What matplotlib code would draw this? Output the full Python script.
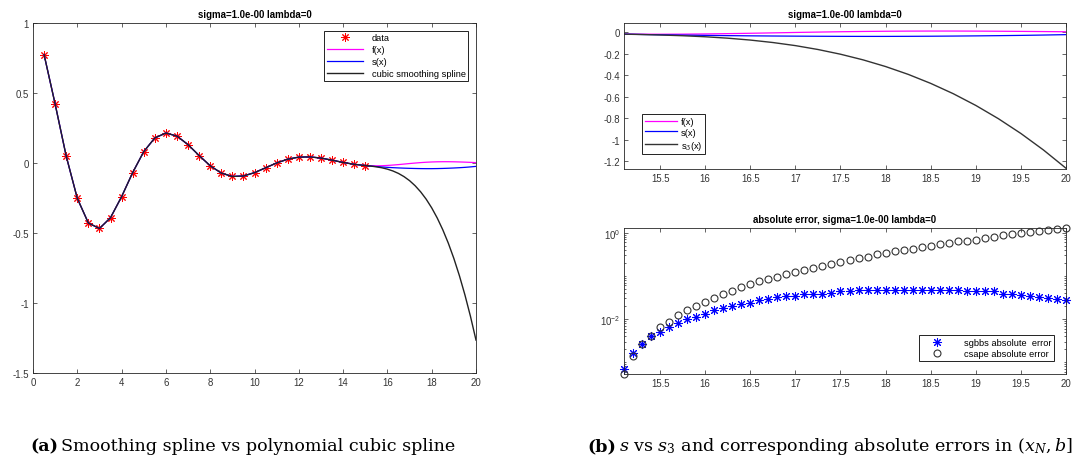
import matplotlib
matplotlib.use("Agg")
import matplotlib.pyplot as plt
from matplotlib.ticker import FixedLocator, FixedFormatter, LogLocator, NullFormatter

# ---------------- data ----------------
x_data = [0.5, 1.0, 1.5, 2.0, 2.5, 3.0, 3.5, 4.0, 4.5, 5.0, 5.5, 6.0, 6.5, 7.0, 7.5,
          8.0, 8.5, 9.0, 9.5, 10.0, 10.5, 11.0, 11.5, 12.0, 12.5, 13.0, 13.5, 14.0, 14.5, 15.0]
y_data = [0.7745, 0.4208, 0.0486, -0.2524, -0.4288, -0.4677, -0.3904, -0.2405, -0.0684, 0.0813,
          0.1792, 0.2142, 0.1923, 0.1310, 0.0532, -0.0197, -0.0719, -0.0960, -0.0927, -0.0689,
          -0.0344, 0.0003, 0.0273, 0.0420, 0.0438, 0.0352, 0.0203, 0.0041, -0.0094, -0.0179]

# curves beyond the last knot (x_N = 15, b = 20)
x_ext = [15.25, 15.5, 15.75, 16.0, 16.25, 16.5, 16.75, 17.0, 17.25, 17.5, 17.75,
         18.0, 18.25, 18.5, 18.75, 19.0, 19.25, 19.5, 19.75, 20.0]
f_ext = [-0.0198, -0.0203, -0.0195, -0.0175, -0.0147, -0.0114, -0.0077, -0.0039, -0.0004, 0.0028,
         0.0054, 0.0073, 0.0086, 0.0092, 0.0092, 0.0086, 0.0075, 0.0061, 0.0045, 0.0028]
s_ext = [-0.0219, -0.0253, -0.0283, -0.0310, -0.0333, -0.0352, -0.0368, -0.0381, -0.0392, -0.0400,
         -0.0404, -0.0404, -0.0398, -0.0388, -0.0374, -0.0357, -0.0336, -0.0311, -0.0279, -0.0241]
s3_ext = [-0.0222, -0.0273, -0.0342, -0.0438, -0.0570, -0.0745, -0.0973, -0.1260, -0.1621, -0.2059,
          -0.2583, -0.3204, -0.3929, -0.4768, -0.5726, -0.6816, -0.8045, -0.9422, -1.0953, -1.2650]

# absolute errors on (x_N, b]
x_err = [15.1, 15.2, 15.3, 15.4, 15.5, 15.6, 15.7, 15.8, 15.9, 16.0,
         16.1, 16.2, 16.3, 16.4, 16.5, 16.6, 16.7, 16.8, 16.9, 17.0,
         17.1, 17.2, 17.3, 17.4, 17.5, 17.6, 17.7, 17.8, 17.9, 18.0,
         18.1, 18.2, 18.3, 18.4, 18.5, 18.6, 18.7, 18.8, 18.9, 19.0,
         19.1, 19.2, 19.3, 19.4, 19.5, 19.6, 19.7, 19.8, 19.9, 20.0]
err_sgbbs = [6.9e-4, 1.62e-3, 2.63e-3, 3.98e-3, 5.0e-3, 6.6e-3, 8.1e-3, 0.0102, 0.0112, 0.0132,
             0.0158, 0.0182, 0.0195, 0.0224, 0.0234, 0.0269, 0.0295, 0.0316, 0.0339, 0.0339,
             0.0372, 0.0389, 0.0389, 0.0407, 0.0437, 0.0437, 0.0468, 0.0468, 0.0468, 0.0479,
             0.0479, 0.0468, 0.0468, 0.0468, 0.0468, 0.0468, 0.0468, 0.0468, 0.0457, 0.0447,
             0.0447, 0.0437, 0.0389, 0.0380, 0.0355, 0.0339, 0.0324, 0.0309, 0.0295, 0.0269]
err_csape = [5.3e-4, 1.35e-3, 2.63e-3, 3.98e-3, 6.46e-3, 8.7e-3, 0.0123, 0.0162, 0.0195, 0.0251,
             0.0302, 0.0372, 0.0457, 0.0537, 0.0631, 0.0759, 0.0851, 0.0955, 0.110, 0.123,
             0.135, 0.155, 0.166, 0.186, 0.214, 0.229, 0.263, 0.275, 0.316, 0.339,
             0.372, 0.398, 0.427, 0.457, 0.501, 0.537, 0.589, 0.631, 0.646, 0.692,
             0.759, 0.813, 0.871, 0.933, 0.977, 1.02, 1.07, 1.15, 1.23, 1.285]

left_xticks = [0, 2, 4, 6, 8, 10, 12, 14, 16, 18, 20]
left_yticks = [-1.5, -1, -0.5, 0, 0.5, 1]
left_yticklabels = ["-1.5", "-1", "-0.5", "0", "0.5", "1"]
right_xticks = [15.5, 16, 16.5, 17, 17.5, 18, 18.5, 19, 19.5, 20]
right_xticklabels = ["15.5", "16", "16.5", "17", "17.5", "18", "18.5", "19", "19.5", "20"]
top_yticks = [0, -0.2, -0.4, -0.6, -0.8, -1, -1.2]
top_yticklabels = ["0", "-0.2", "-0.4", "-0.6", "-0.8", "-1", "-1.2"]

title_main = "sigma=1.0e-00 lambda=0"
title_err = "absolute error, sigma=1.0e-00 lambda=0"

# ---------------- style ----------------
plt.rcParams["font.family"] = ["Liberation Sans", "DejaVu Sans"]
plt.rcParams["mathtext.fontset"] = "dejavuserif"
AX_COL = "#262626"
TICK_COL = "#333333"
FS = 6.9
LFS = 6.7
ASTERISK = (8, 2, 0)   # MATLAB-like '*' marker (plus + cross)

fig = plt.figure(figsize=(10.74, 4.64), dpi=100)
W, H = 1074.0, 464.0


def add_ax(l, r, t, b):
    return fig.add_axes([l / W, (H - b) / H, (r - l) / W, (b - t) / H])


def matlab_style(ax):
    for sp in ax.spines.values():
        sp.set_color(AX_COL)
        sp.set_linewidth(0.6)
    ax.tick_params(which="both", direction="in", top=True, right=True,
                   colors=AX_COL, labelcolor=TICK_COL, labelsize=FS, width=0.5, pad=3)
    ax.tick_params(which="major", length=3)
    ax.tick_params(which="minor", length=1.6)


def legend_style(leg):
    fr = leg.get_frame()
    fr.set_edgecolor("#222222")
    fr.set_linewidth(0.7)
    fr.set_alpha(1)


# ---------------- (a) ----------------
ax1 = add_ax(33, 476, 24, 374)
ax1.plot(x_data, y_data, linestyle="none", marker=ASTERISK, color="red", markersize=6,
         markeredgewidth=0.7, label="data")
ax1.plot(x_data + x_ext, y_data + f_ext, color="#ff00ff", lw=0.9, label="f(x)")
ax1.plot(x_data + x_ext, y_data + s_ext, color="#0000ff", lw=0.9, label="s(x)")
ax1.plot(x_data + x_ext, y_data + s3_ext, color="#222222", lw=1.0, label="cubic smoothing spline")
ax1.set_xlim(0, 20)
ax1.set_ylim(-1.5, 1)
ax1.xaxis.set_major_locator(FixedLocator(left_xticks))
ax1.yaxis.set_major_locator(FixedLocator(left_yticks))
ax1.yaxis.set_major_formatter(FixedFormatter(left_yticklabels))
matlab_style(ax1)
ax1.set_title(title_main, fontsize=FS, fontweight="bold", pad=4)
leg1 = ax1.legend(loc="upper right", bbox_to_anchor=(0.983, 0.978), fontsize=LFS, frameon=True,
                  fancybox=False, handlelength=3.9, handletextpad=0.9, borderpad=0.3,
                  labelspacing=0.3, borderaxespad=0)
legend_style(leg1)

# ---------------- (b) top ----------------
ax2 = add_ax(624, 1066, 24, 170)
ax2.plot([15.0] + x_ext, [y_data[-1]] + f_ext, color="#ff00ff", lw=0.9, label="f(x)")
ax2.plot([15.0] + x_ext, [y_data[-1]] + s_ext, color="#0000ff", lw=0.9, label="s(x)")
ax2.plot([15.0] + x_ext, [y_data[-1]] + s3_ext, color="#333333", lw=1.0, label="s$_3$(x)")
ax2.set_xlim(15.1, 20)
ax2.set_ylim(-1.272, 0.084)
ax2.xaxis.set_major_locator(FixedLocator(right_xticks))
ax2.xaxis.set_major_formatter(FixedFormatter(right_xticklabels))
ax2.yaxis.set_major_locator(FixedLocator(top_yticks))
ax2.yaxis.set_major_formatter(FixedFormatter(top_yticklabels))
matlab_style(ax2)
ax2.set_title(title_main, fontsize=FS, fontweight="bold", pad=4)
leg2 = ax2.legend(loc="lower left", bbox_to_anchor=(0.041, 0.10), fontsize=LFS, frameon=True,
                  fancybox=False, handlelength=3.4, handletextpad=0.5, borderpad=0.3,
                  labelspacing=0.2, borderaxespad=0)
legend_style(leg2)

# ---------------- (b) bottom ----------------
ax3 = add_ax(624, 1066, 229, 375)
ax3.set_yscale("log")
ax3.plot(x_err, err_sgbbs, linestyle="none", marker=ASTERISK, color="#0000ff", markersize=6.5,
         markeredgewidth=0.75, clip_on=False, label="sgbbs absolute  error")
ax3.plot(x_err, err_csape, linestyle="none", marker="o", markerfacecolor="none",
         markeredgecolor="#333333", markersize=5, markeredgewidth=0.8, clip_on=False,
         label="csape absolute error")
ax3.set_xlim(15.1, 20)
ax3.set_ylim(5.3e-4, 1.285)
ax3.xaxis.set_major_locator(FixedLocator(right_xticks))
ax3.xaxis.set_major_formatter(FixedFormatter(right_xticklabels))
ax3.yaxis.set_major_locator(FixedLocator([1e-2, 1e0]))
ax3.yaxis.set_minor_locator(LogLocator(base=10, subs=[1, 2, 3, 4, 5, 6, 7, 8, 9], numticks=20))
ax3.yaxis.set_minor_formatter(NullFormatter())
matlab_style(ax3)
ax3.set_title(title_err, fontsize=FS, fontweight="bold", pad=4)
leg3 = ax3.legend(loc="lower right", bbox_to_anchor=(0.973, 0.09), fontsize=LFS, frameon=True,
                  fancybox=False, handlelength=3.2, handletextpad=1.3, borderpad=0.3,
                  labelspacing=0.2, borderaxespad=0)
legend_style(leg3)

# ---------------- captions ----------------
cap_font = dict(family=["DejaVu Serif"], fontsize=12.6, color="black", va="baseline")
fig.text(30 / W, (H - 451) / H, "(a)", fontweight="bold", **cap_font)
fig.text(61 / W, (H - 451) / H, "Smoothing spline vs polynomial cubic spline", **cap_font)
fig.text(587 / W, (H - 451) / H, "(b)", fontweight="bold", **cap_font)
fig.text(619 / W, (H - 451) / H,
         "$s$ vs $s_3$ and corresponding absolute errors in $(x_N, b]$", **cap_font)

fig.savefig("out.png", dpi=100)
